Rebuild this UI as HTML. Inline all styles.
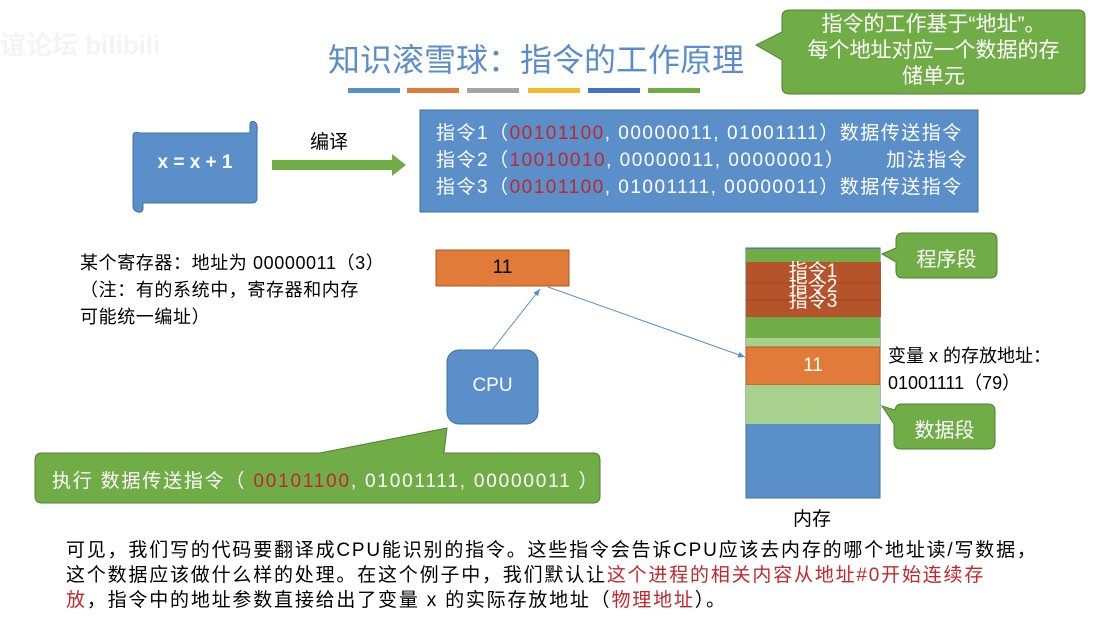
<!DOCTYPE html>
<html><head><meta charset="utf-8"><style>
body{margin:0;width:1097px;height:622px;background:#fff;position:relative;overflow:hidden;font-family:"Liberation Sans","Noto Sans CJK SC",sans-serif;}
.a{position:absolute;white-space:nowrap;}
.r{color:#c0282d}
</style></head><body>
<svg class="a" style="left:0;top:0" width="1097" height="622">
<defs><marker id="m" markerWidth="8" markerHeight="8" refX="7" refY="4" orient="auto"><path d="M0,1 L7,4 L0,7z" fill="#5b8fc9"/></marker></defs>
<g><rect x="348" y="88" width="52" height="5" fill="#5b8fc9"/><rect x="407" y="88" width="52" height="5" fill="#e07b39"/><rect x="467" y="88" width="52" height="5" fill="#a5a5a5"/><rect x="528" y="88" width="52" height="5" fill="#f2b92c"/><rect x="588" y="88" width="52" height="5" fill="#4472c4"/><rect x="648" y="88" width="52" height="5" fill="#70ad47"/></g>
<path d="M790,10 H1078 Q1085,10 1085,17 V87 Q1085,94 1078,94 H790 Q782,94 782,87 V60 L756,45 L782,32 V17 Q782,10 790,10Z" fill="#70ad47" stroke="#507e32"/>
<path d="M140,133 H250 V125 Q250,120 255,122 Q258,124 257,132 V198 Q257,203 252,203 H143 V208 Q143,213 138,212 Q133,211 133,206 V136 Q133,131 140,133Z" fill="#5b8fc9" stroke="#41719c"/>
<rect x="272" y="160" width="120" height="10" fill="#70ad47"/><path d="M392,154 L406,165 L392,176Z" fill="#70ad47"/>
<rect x="420" y="110" width="558" height="102" fill="#5b8fc9" stroke="#41719c"/>
<rect x="436" y="250" width="133" height="36" fill="#e07b39" stroke="#ae5a21"/>
<rect x="447" y="350" width="91" height="74" rx="12" fill="#5b8fc9" stroke="#41719c"/>
<path d="M42,453 H320 L447,428 L444,453 H593 Q600,453 600,460 V496 Q600,503 593,503 H42 Q35,503 35,496 V460 Q35,453 42,453Z" fill="#70ad47" stroke="#507e32"/>
<line x1="492" y1="350" x2="540" y2="289" stroke="#5b8fc9" marker-end="url(#m)"/>
<line x1="548" y1="287" x2="745" y2="357" stroke="#5b8fc9" marker-end="url(#m)"/>
<rect x="746" y="248" width="134" height="250" fill="#5b8fc9" stroke="#41719c"/>
<rect x="746" y="249" width="134" height="13" fill="#70ad47"/>
<rect x="746" y="262" width="135" height="55" fill="#b5532a"/>
<line x1="746" y1="283" x2="881" y2="283" stroke="#9a4522"/><line x1="746" y1="300" x2="881" y2="300" stroke="#9a4522"/>
<rect x="746" y="317" width="134" height="21" fill="#70ad47"/>
<rect x="746" y="338" width="134" height="9" fill="#a9d18e"/>
<rect x="746" y="347" width="134" height="38" fill="#e07b39" stroke="#ae5a21"/>
<rect x="746" y="385" width="134" height="39" fill="#a9d18e"/>
<path d="M903,233 H990 Q997,233 997,240 V271 Q997,278 990,278 H903 Q896,278 896,271 V262 L882,254 L896,248 V240 Q896,233 903,233Z" fill="#70ad47" stroke="#507e32"/>
<path d="M901,404 H988 Q995,404 995,411 V442 Q995,449 988,449 H901 Q894,449 894,442 V424 L882,406 L895,410 Q896,404 901,404Z" fill="#70ad47" stroke="#507e32"/>
</svg>
<div class="a" style="left:0;top:25px;font-size:26px;color:#f4f4f4;font-weight:bold">谊论坛 bilibili</div>
<div class="a" style="left:328px;top:35px;font-size:32px;color:#5b8ec9">知识滚雪球：指令的工作原理</div>
<div class="a" style="left:782px;top:12px;width:303px;text-align:center;color:#fff;font-size:21px;line-height:26px;white-space:normal">指令的工作基于“地址”。<br>每个地址对应一个数据的存<br>储单元</div>
<div class="a" style="left:133px;top:152px;width:124px;text-align:center;color:#fff;font-size:19px;font-weight:bold">x = x + 1</div>
<div class="a" style="left:310px;top:127px;font-size:19px">编译</div>
<div class="a" style="left:436px;top:120px;color:#fff;font-size:19px;line-height:27px;letter-spacing:1.5px">指令1（<span class="r">00101100</span>, 00000011, 01001111）数据传送指令<br>指令2（<span class="r">10010010</span>, 00000011, 00000001）&nbsp;&nbsp;&nbsp;&nbsp;&nbsp;&nbsp;加法指令<br>指令3（<span class="r">00101100</span>, 01001111, 00000011）数据传送指令</div>
<div class="a" style="left:80px;top:250px;font-size:18px;line-height:27px;letter-spacing:0.6px">某个寄存器：地址为 00000011（3）<br>（注：有的系统中，寄存器和内存<br>可能统一编址）</div>
<div class="a" style="left:436px;top:257px;width:133px;text-align:center;font-size:19px">11</div>
<div class="a" style="left:447px;top:375px;width:91px;text-align:center;color:#fff;font-size:19px">CPU</div>
<div class="a" style="left:52px;top:466px;color:#fff;font-size:19px;letter-spacing:1.8px">执行 数据传送指令（ <span class="r">00101100</span>, 01001111, 00000011 ）</div>
<div class="a" style="left:746px;top:264px;width:134px;text-align:center;color:#fff;font-size:19px;line-height:15px">指令1<br>指令2<br>指令3</div>
<div class="a" style="left:746px;top:355px;width:134px;text-align:center;color:#fff;font-size:19px">11</div>
<div class="a" style="left:896px;top:243px;width:101px;text-align:center;color:#fff;font-size:20px">程序段</div>
<div class="a" style="left:894px;top:414px;width:101px;text-align:center;color:#fff;font-size:20px">数据段</div>
<div class="a" style="left:888px;top:343px;font-size:18px;line-height:27px">变量 x 的存放地址：<br>01001111（79）</div>
<div class="a" style="left:793px;top:504px;font-size:19px">内存</div>
<div class="a" style="left:66px;top:538px;font-size:19px;line-height:25px;letter-spacing:1.8px">可见，我们写的代码要翻译成CPU能识别的指令。这些指令会告诉CPU应该去内存的哪个地址读/写数据，<br>这个数据应该做什么样的处理。在这个例子中，我们默认让<span class="r">这个进程的相关内容从地址#0开始连续存</span><br><span class="r">放</span>，指令中的地址参数直接给出了变量 x 的实际存放地址（<span class="r">物理地址</span>）。</div>
</body></html>
